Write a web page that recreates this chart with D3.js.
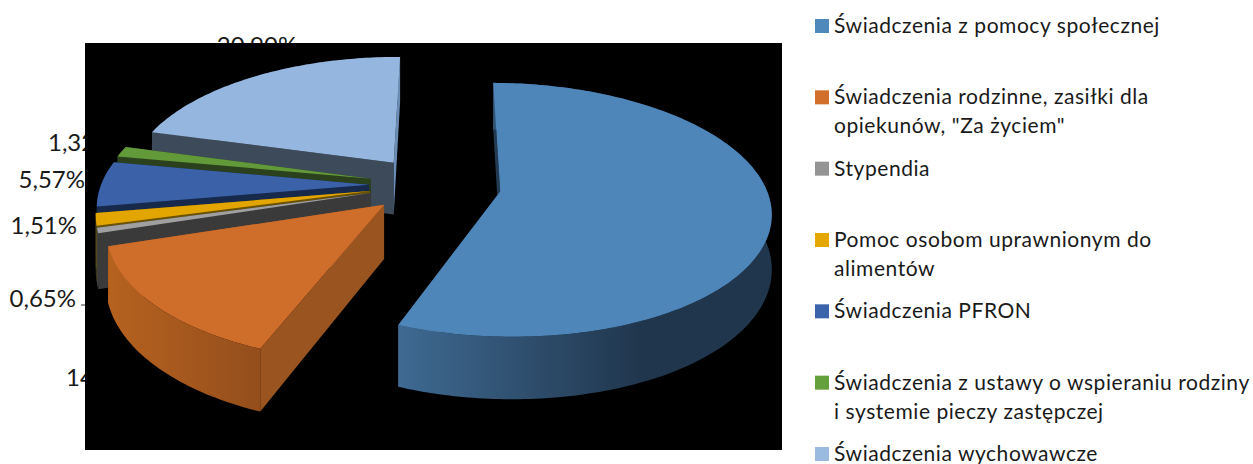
<!DOCTYPE html>
<html>
<head>
    <meta charset="utf-8">
    <title>Struktura świadczeń</title>
    <script type="text/javascript" src="https://cdn.jsdelivr.net/npm/d3@7"></script>
    <style>
        html, body { margin: 0; padding: 0; background: #fff; overflow: hidden; }
        text { font-family: Lato, "Open Sans", sans-serif; fill: #1a1a1a; }
    </style>
</head>
<body>
<script type="text/javascript">
    var categories = [
        ['Świadczenia z pomocy społecznej'],
        ['Świadczenia rodzinne, zasiłki dla', 'opiekunów, "Za życiem"'],
        ['Stypendia'],
        ['Pomoc osobom uprawnionym do', 'alimentów'],
        ['Świadczenia PFRON'],
        ['Świadczenia z ustawy o wspieraniu rodziny', 'i systemie pieczy zastępczej'],
        ['Świadczenia wychowawcze']
    ];
    var shares = [55.83, 14.22, 0.65, 1.51, 5.57, 1.32, 20.90];
    var shareLabels = ['55,83%', '14,22%', '0,65%', '1,51%', '5,57%', '1,32%', '20,90%'];

    var width = 1253, height = 464;
    var topColors  = ['#4e86ba', '#cf6d2a', '#a0a0a0', '#e3a600', '#3b62a9', '#629a3a', '#95b6df'];
    var swatches   = ['#4f88bb', '#d2702b', '#949494', '#e5a800', '#3b64ad', '#64a03c', '#9abbe0'];
    var wallLeft   = ['#3f6a92', '#b6621f', '#444444', '#4a4420', '#182a4c', '#2b401d', '#3d4a59'];
    var wallRight  = ['#20364d', '#944e1c', '#3a3a3a', '#4a4420', '#182a4c', '#2b401d', '#3d4a59'];
    var startWall  = ['#233b52', '#9a5420', '#3a3a3a', '#6b5200', '#182a4c', '#2b401d', '#3d4a59'];
    var endWall    = ['#233b52', '#9a5420', '#3a3a3a', '#6b5200', '#182a4c', '#2b401d', '#6a8db5'];
    var explode    = [72, 60, 60, 60, 60, 60, 60];
    var radius     = [265, 268, 268, 268, 268, 268, 268];
    var tilts      = [0.462, 0.475, 0.475, 0.475, 0.475, 0.475, 0.475];

    // pie plane -> screen, the chart has a small perspective
    var ox = 429, oy = 185, focal = 1840, depth = 53;
    function project(X, Y, drop, tilt) {
        var s = 1 / (1 - Y / focal);
        return [ox + X * s, oy + Y * tilt * s + (drop ? depth * s : 0)];
    }

    var svg = d3.select('body').append('svg')
        .attr('width', width)
        .attr('height', height);
    var defs = svg.append('defs');

    var rot = 0.5 * Math.PI / 180;
    var arcs = d3.pie().sort(null).value(function(d){ return d; })
        .startAngle(rot).endAngle(rot + 2 * Math.PI)(shares);

    // data labels sit under the black plot area, as in the original
    var labelAt = [[600, 200, 'middle'], [66, 386, 'start'], [76, 307, 'end'], [77, 234, 'end'],
                   [85, 188, 'end'], [48, 151, 'start'], [257, 54, 'middle']];
    svg.selectAll('text.val')
        .data(shareLabels)
        .enter().append('text')
        .attr('class', 'val')
        .attr('x', function(d, i){ return labelAt[i][0]; })
        .attr('y', function(d, i){ return labelAt[i][1]; })
        .attr('text-anchor', function(d, i){ return labelAt[i][2]; })
        .style('font-size', '24px')
        .text(function(d){ return d; });

    svg.append('line').attr('x1', 81).attr('x2', 85).attr('y1', 305).attr('y2', 305)
        .attr('stroke', '#333').attr('stroke-width', 1);

    svg.append('rect').attr('x', 85).attr('y', 43).attr('width', 697).attr('height', 407).attr('fill', '#000');

    var line = d3.line();
    var pie = svg.append('g');

    // back slices first
    [6, 5, 4, 3, 2, 1, 0].forEach(function(i) {
        var a = arcs[i];
        var R = radius[i];
        var mid = (a.startAngle + a.endAngle) / 2;
        var cx = explode[i] * Math.sin(mid), cy = -explode[i] * Math.cos(mid);
        var n = Math.max(4, Math.ceil((a.endAngle - a.startAngle) * 60));
        var angles = d3.range(n + 1).map(function(k){ return a.startAngle + (a.endAngle - a.startAngle) * k / n; });

        function pt(r, ang, drop) { return project(cx + r * Math.sin(ang), cy - r * Math.cos(ang), drop, tilts[i]); }
        var rim = angles.map(function(t){ return pt(R, t, false); });
        var rimLow = angles.map(function(t){ return pt(R, t, true); });
        var apex = pt(0, 0, false), apexLow = pt(0, 0, true);

        var xs = d3.extent(rimLow, function(p){ return p[0]; });
        var grad = defs.append('linearGradient').attr('id', 'wall' + i)
            .attr('gradientUnits', 'userSpaceOnUse')
            .attr('x1', xs[0]).attr('x2', i === 0 ? xs[0] + (xs[1] - xs[0]) * 0.65 : xs[1])
            .attr('y1', 0).attr('y2', 0);
        grad.append('stop').attr('offset', 0).attr('stop-color', wallLeft[i]);
        grad.append('stop').attr('offset', 1).attr('stop-color', wallRight[i]);

        var g = pie.append('g');
        var endPath = line([apex, rim[n], rimLow[n], apexLow]) + 'Z';
        var endFacesUs = Math.cos(a.endAngle) > 0;
        g.append('path').attr('d', line([apex, rim[0], rimLow[0], apexLow]) + 'Z').attr('fill', startWall[i]);
        if (!endFacesUs) g.append('path').attr('d', endPath).attr('fill', endWall[i]);
        g.append('path').attr('d', line(rim.concat(rimLow.slice().reverse())) + 'Z').attr('fill', 'url(#wall' + i + ')');
        if (endFacesUs) g.append('path').attr('d', endPath).attr('fill', endWall[i]);
        g.append('path').attr('d', line([apex].concat(rim)) + 'Z').attr('fill', topColors[i]);
    });

    // legend
    var legendY = d3.scalePoint().domain(d3.range(categories.length)).range([19, 447]);
    var legend = svg.selectAll('g.item')
        .data(categories)
        .enter().append('g')
        .attr('class', 'item')
        .attr('transform', function(d, i){ return 'translate(815,' + legendY(i) + ')'; });
    legend.append('rect').attr('width', 14).attr('height', 14)
        .attr('fill', function(d, i){ return swatches[i]; });
    legend.each(function(d) {
        var item = d3.select(this);
        d.forEach(function(txt, k) {
            item.append('text').attr('x', 19).attr('y', 14 + k * 29)
                .style('font-size', '21px')
                .style('letter-spacing', '0.55px')
                .text(txt);
        });
    });
</script>
</body>
</html>
